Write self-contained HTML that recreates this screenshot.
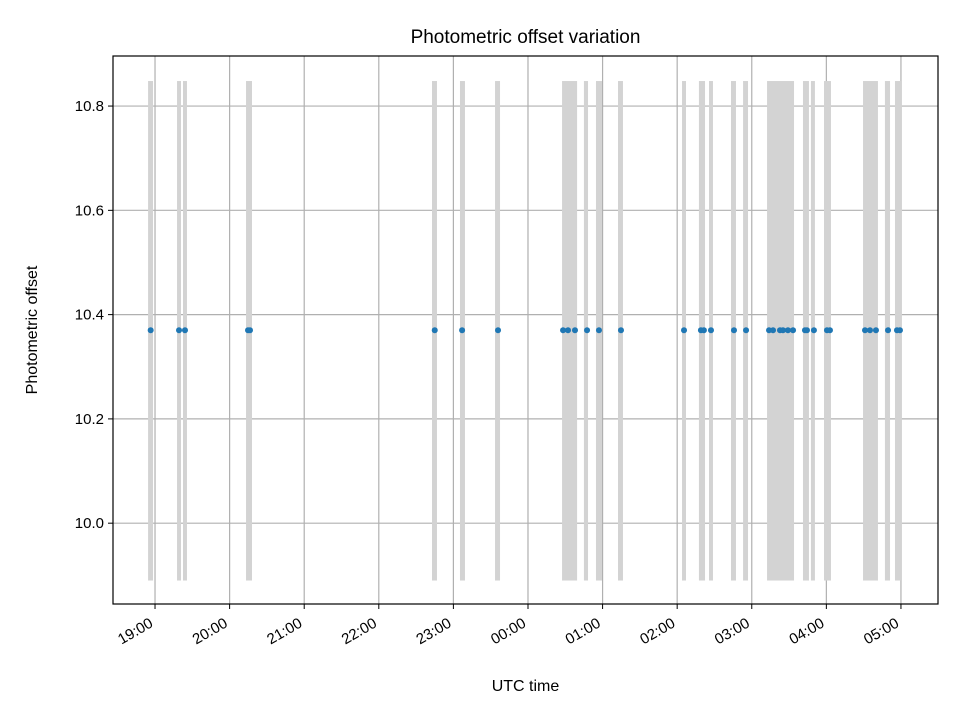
<!DOCTYPE html>
<html><head><meta charset="utf-8"><style>body{margin:0;background:#fff}svg{font-family:"Liberation Sans","DejaVu Sans",sans-serif}</style></head>
<body>
<svg id="chart" width="960" height="720" xmlns="http://www.w3.org/2000/svg">
<rect width="960" height="720" fill="#fff"/>
<g id="grid"></g><g id="bars"></g><g id="pts"></g><g id="axes"></g>
</svg>
<script>
// times in minutes since 18:00 UTC
const pointTimes=[56.5,79.3,84.1,134.8,136.4,285,307,335.9,388.2,392.2,397.8,407.5,417.1,434.8,485.5,499.1,501.5,507.2,525.7,535.4,553.9,557.1,562.7,565.1,569.1,573.2,582.8,584.4,590,600.5,602.9,631.1,635.1,639.9,649.6,656.8,659.2];
const pointValue=10.37;
const barStarts=[54.4,77.7,82.5,133.2,282.8,305.3,333.5,387.4,405,414.7,432.4,483.9,497.5,505.6,523.3,533,552.3,581.2,587.6,598.1,629.5,647.1,655.2];
const barEnds=[58.4,80.9,85.7,138,286.8,309.3,337.5,399.5,408.3,419.5,436.4,487.1,502.4,508.8,527.3,537,574,586,590.8,603.7,641.5,651.2,660.8];
const barRange=[9.89,10.848];
const xTicks=[60,120,180,240,300,360,420,480,540,600,660];
const xTickLabels=["19:00","20:00","21:00","22:00","23:00","00:00","01:00","02:00","03:00","04:00","05:00"];
const yTicks=[10.0,10.2,10.4,10.6,10.8];
const yTickLabels=["10.0","10.2","10.4","10.6","10.8"];
const L=113,R=938,T=56,B=604,x0=26.2,x1=689.8,y0=9.845,y1=10.896;
const X=t=>L+(t-x0)/(x1-x0)*(R-L);
const Y=v=>B-(v-y0)/(y1-y0)*(B-T);
const NS="http://www.w3.org/2000/svg";
function mk(tag,attrs,parent,text){const e=document.createElementNS(NS,tag);for(const k in attrs)e.setAttribute(k,attrs[k]);if(text!==undefined)e.textContent=text;parent.appendChild(e);return e;}
const grid=document.getElementById('grid'),bars=document.getElementById('bars'),pts=document.getElementById('pts'),axes=document.getElementById('axes');
xTicks.forEach((t,i)=>{
  const g=mk('line',{x1:X(t),x2:X(t),y1:T,y2:B,stroke:'#b0b0b0','stroke-width':1.2},grid);
  
  const tk=mk('line',{x1:X(t),x2:X(t),y1:B,y2:B+5,stroke:'#000','stroke-width':1},axes);
  
  const ax=X(t)-1, ay=B+22;
  const lb=mk('text',{x:ax,y:ay,'font-size':15,'text-anchor':'end',transform:`rotate(-30 ${ax} ${ay})`},axes,xTickLabels[i]);
  
});
yTicks.forEach((v,i)=>{
  const g=mk('line',{x1:L,x2:R,y1:Y(v),y2:Y(v),stroke:'#b0b0b0','stroke-width':1.2},grid);
  
  const tk=mk('line',{x1:L-5,x2:L,y1:Y(v),y2:Y(v),stroke:'#000','stroke-width':1},axes);
  
  const lb=mk('text',{x:L-9,y:Y(v)+5,'font-size':15,'text-anchor':'end'},axes,yTickLabels[i]);
  
});
barStarts.forEach((s,i)=>{
  const r=mk('rect',{x:X(s),y:Y(barRange[1]),width:X(barEnds[i])-X(s),height:Y(barRange[0])-Y(barRange[1]),fill:'#d3d3d3'},bars);
  
});
pointTimes.forEach(t=>{
  const c=mk('circle',{cx:X(t),cy:Y(pointValue),r:3,fill:'#1f77b4'},pts);
  
});
const fr=mk('rect',{x:L,y:T,width:R-L,height:B-T,fill:'none',stroke:'#000','stroke-width':1.2},axes);

const ti=mk('text',{x:(L+R)/2,y:43,'font-size':19,'text-anchor':'middle'},axes,'Photometric offset variation');

const xl=mk('text',{x:(L+R)/2,y:691,'font-size':16,'text-anchor':'middle'},axes,'UTC time');

const yl=mk('text',{x:37,y:(T+B)/2,'font-size':16,'text-anchor':'middle',transform:`rotate(-90 37 ${(T+B)/2})`},axes,'Photometric offset');

</script>
</body></html>
